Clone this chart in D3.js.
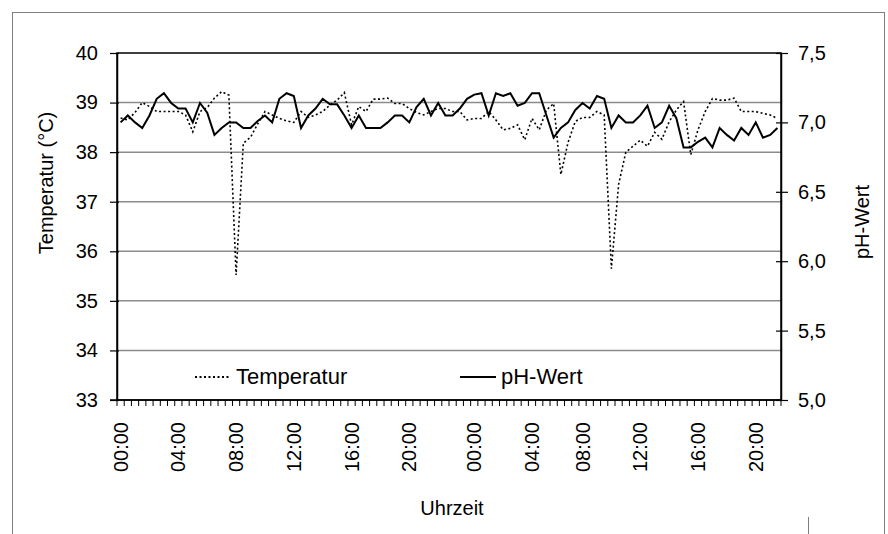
<!DOCTYPE html>
<html>
<head>
<meta charset="utf-8">
<script src="https://cdn.jsdelivr.net/npm/d3@7"></script>
<style>
  body { margin: 0; background: #fff; }
  text { font-family: "Liberation Sans", Arial, sans-serif; fill: #000; }
</style>
</head>
<body>
<script>
// Messwerte alle 30 min, zwei Tage
let temperature = [
  38.69, 38.65, 38.80, 39.00, 38.92, 38.82, 38.82, 38.82, 38.82, 38.75,
  38.41, 38.82, 38.90, 39.09, 39.22, 39.15, 35.52, 38.18, 38.30, 38.57,
  38.82, 38.75, 38.68, 38.63, 38.60, 38.82, 38.70, 38.75, 38.82, 38.95,
  39.05, 39.20, 38.55, 38.92, 38.82, 39.07, 39.07, 39.09, 38.98, 38.98,
  38.88, 38.80, 38.75, 38.82, 38.88, 38.88, 38.82, 38.82, 38.65, 38.68,
  38.68, 38.82, 38.65, 38.45, 38.48, 38.55, 38.25, 38.68, 38.45, 38.85,
  38.98, 37.55, 38.20, 38.62, 38.70, 38.70, 38.82, 38.75, 35.65, 37.35,
  38.00, 38.12, 38.24, 38.12, 38.40, 38.26, 38.61, 38.85, 39.02, 37.95,
  38.45, 38.82, 39.08, 39.05, 39.05, 39.09, 38.82, 38.82, 38.82, 38.78,
  38.75, 38.68
];

let ph = [
  7.00, 7.05, 7.00, 6.96, 7.05, 7.17, 7.21, 7.14, 7.10, 7.10,
  7.00, 7.14, 7.07, 6.91, 6.96, 7.00, 7.00, 6.96, 6.96, 7.01,
  7.05, 7.00, 7.17, 7.21, 7.19, 6.96, 7.05, 7.10, 7.17, 7.13,
  7.13, 7.05, 6.96, 7.05, 6.96, 6.96, 6.96, 7.00, 7.05, 7.05,
  7.00, 7.11, 7.17, 7.05, 7.14, 7.05, 7.05, 7.10, 7.17, 7.20,
  7.21, 7.05, 7.21, 7.19, 7.21, 7.12, 7.14, 7.21, 7.21, 7.05,
  6.89, 6.96, 7.00, 7.09, 7.14, 7.10, 7.19, 7.17, 6.96, 7.05,
  7.00, 7.00, 7.05, 7.12, 6.96, 7.00, 7.12, 7.03, 6.82, 6.82,
  6.86, 6.89, 6.82, 6.96, 6.91, 6.87, 6.96, 6.91, 7.00, 6.89,
  6.91, 6.96
];

let tickLabels = ["00:00", "04:00", "08:00", "12:00", "16:00", "20:00",
                  "00:00", "04:00", "08:00", "12:00", "16:00", "20:00"];
let tickIndex = [0, 8, 16, 24, 32, 40, 49, 57, 64, 72, 80, 88];

let tempTicks = [33, 34, 35, 36, 37, 38, 39, 40];
let phTicks = [5.0, 5.5, 6.0, 6.5, 7.0, 7.5];

let width = 888, height = 534;
let plotLeft = 117, plotRight = 781, plotTop = 53, plotBottom = 400;

let svg = d3.select("body").append("svg")
            .attr("width", width)
            .attr("height", height);

// Rahmen des Diagrammbereichs
svg.append("rect")
   .attr("x", 12.5).attr("y", 12.5)
   .attr("width", 872).attr("height", 560)
   .attr("fill", "none")
   .attr("stroke", "#7f7f7f")
   .attr("stroke-width", 1);
svg.append("line")
   .attr("x1", 808.5).attr("x2", 808.5)
   .attr("y1", 517).attr("y2", 534)
   .attr("stroke", "#7f7f7f");

let x = d3.scaleBand()
          .domain(d3.range(temperature.length))
          .range([plotLeft, plotRight]);
let yT = d3.scaleLinear().domain([33, 40]).range([plotBottom, plotTop]);
let yP = d3.scaleLinear().domain([5, 7.5]).range([plotBottom, plotTop]);

// Gitternetz
svg.append("g").selectAll("line")
   .data(tempTicks.slice(1, -1))
   .join("line")
   .attr("x1", plotLeft).attr("x2", plotRight)
   .attr("y1", d => yT(d)).attr("y2", d => yT(d))
   .attr("stroke", "#8c8c8c")
   .attr("stroke-width", 1.5);

svg.append("rect")
   .attr("x", plotLeft).attr("y", plotTop)
   .attr("width", plotRight - plotLeft).attr("height", plotBottom - plotTop)
   .attr("fill", "none")
   .attr("stroke", "#000")
   .attr("stroke-width", 1.5);

// linke Achse
let axL = svg.append("g")
   .attr("transform", `translate(${plotLeft},0)`)
   .call(d3.axisLeft(yT).tickValues(tempTicks).tickSize(7).tickSizeOuter(0).tickPadding(12)
           .tickFormat(d3.format("d")));
axL.select(".domain").attr("stroke-width", 1.5);
axL.selectAll(".tick line").attr("x2", -7).attr("x1", 2).attr("stroke-width", 1.2);
axL.selectAll("text").attr("font-size", 20).attr("font-family", "Liberation Sans, Arial");

// rechte Achse
let axR = svg.append("g")
   .attr("transform", `translate(${plotRight},0)`)
   .call(d3.axisRight(yP).tickValues(phTicks).tickSize(7).tickSizeOuter(0).tickPadding(10)
           .tickFormat(d => d3.format(".1f")(d).replace(".", ",")));
axR.select(".domain").attr("stroke-width", 1.5);
axR.selectAll(".tick line").attr("x1", -5).attr("stroke-width", 1.2);
axR.selectAll("text").attr("font-size", 20).attr("font-family", "Liberation Sans, Arial");

// Rubrikenachse
let step = x.step();
svg.append("line")
   .attr("x1", plotLeft - 7).attr("x2", plotRight)
   .attr("y1", plotBottom).attr("y2", plotBottom)
   .attr("stroke", "#000").attr("stroke-width", 1.5);
svg.append("g").selectAll("line")
   .data(d3.range(temperature.length + 1))
   .join("line")
   .attr("x1", d => plotLeft + d * step).attr("x2", d => plotLeft + d * step)
   .attr("y1", plotBottom).attr("y2", plotBottom + 6)
   .attr("stroke", "#000").attr("stroke-width", 1);

svg.append("g").selectAll("text")
   .data(tickIndex)
   .join("text")
   .attr("transform", d => `translate(${x(d) + x.bandwidth() / 2 + 7},422) rotate(-90)`)
   .attr("text-anchor", "end")
   .attr("font-size", 20)
   .text((d, i) => tickLabels[i]);

// Linien
let tempLine = d3.line()
                 .x((d, i) => x(i) + x.bandwidth() / 2)
                 .y(d => yT(d));
let phLine = d3.line()
               .x((d, i) => x(i) + x.bandwidth() / 2)
               .y(d => yP(d));

svg.append("path")
   .datum(temperature)
   .attr("d", tempLine)
   .attr("fill", "none")
   .attr("stroke", "#000")
   .attr("stroke-width", 1.6)
   .attr("stroke-dasharray", "2,2.5");

svg.append("path")
   .datum(ph)
   .attr("d", phLine)
   .attr("fill", "none")
   .attr("stroke", "#000")
   .attr("stroke-width", 2);

// Achsentitel
svg.append("text")
   .attr("transform", "translate(53,183) rotate(-90)")
   .attr("text-anchor", "middle")
   .attr("font-size", 20)
   .text("Temperatur (°C)");
svg.append("text")
   .attr("transform", "translate(869,222) rotate(-90)")
   .attr("text-anchor", "middle")
   .attr("font-size", 20)
   .text("pH-Wert");
svg.append("text")
   .attr("x", 452).attr("y", 515)
   .attr("text-anchor", "middle")
   .attr("font-size", 20)
   .text("Uhrzeit");

// Legende
let legend = [
  {name: "Temperatur", x: 195, dash: "2,2.5", w: 2},
  {name: "pH-Wert", x: 460, dash: null, w: 2}
];
let lg = svg.append("g").selectAll("g").data(legend).join("g");
lg.append("line")
  .attr("x1", d => d.x).attr("x2", d => d.x + 36)
  .attr("y1", 377).attr("y2", 377)
  .attr("stroke", "#000")
  .attr("stroke-width", d => d.w)
  .attr("stroke-dasharray", d => d.dash);
lg.append("text")
  .attr("x", d => d.x + 41).attr("y", 384)
  .attr("font-size", 22)
  .text(d => d.name);
</script>
</body>
</html>
